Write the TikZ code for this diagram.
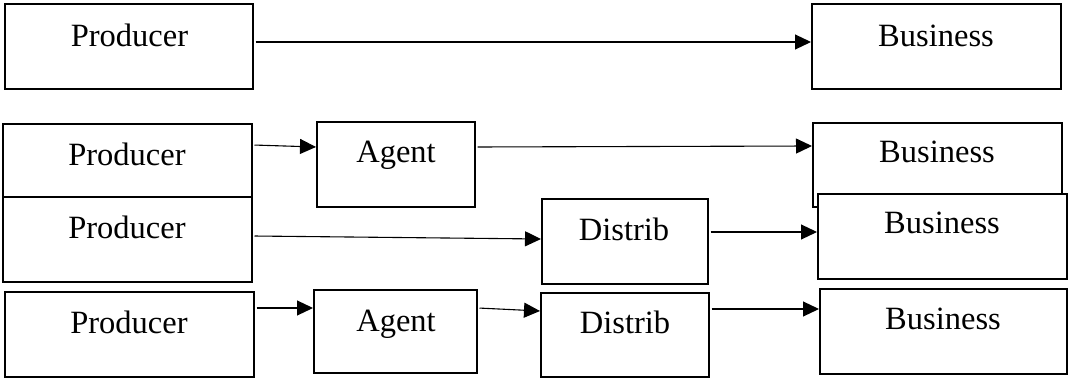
\documentclass[tikz,border=0pt]{standalone}
\usepackage{fontspec}
\setmainfont{Liberation Serif}
\usetikzlibrary{arrows.meta}
\begin{document}
\begin{tikzpicture}[x=1pt,y=-1pt,
  box/.style={draw=black,line width=2pt,rectangle,inner sep=0pt,fill=white},
  lbl/.style={anchor=base,inner sep=0pt,font=\fontsize{32.5}{38}\selectfont},
  arr/.style={line width=1.1pt,-{Triangle[length=16pt,width=15pt]},shorten <=1.5pt}]
\path[use as bounding box,fill=white] (0,0) rectangle (1068,379);
% row 1
\node[box,minimum width=248pt,minimum height=85pt] (p1) at (129,46.5) {};
\node[box,minimum width=249pt,minimum height=85pt] (b1) at (936.5,46.5) {};
% row 2
\node[box,minimum width=249pt,minimum height=73pt] (p2) at (127.5,160.5) {};
\node[box,minimum width=158pt,minimum height=85pt] (a2) at (396,164.5) {};
\node[box,minimum width=249pt,minimum height=84pt] (b2) at (937.5,165) {};
% row 3
\node[box,minimum width=249pt,minimum height=85pt] (p3) at (127.5,239.5) {};
\node[box,minimum width=166pt,minimum height=85pt] (d3) at (625,241.5) {};
\node[box,minimum width=249pt,minimum height=85pt] (b3) at (942.5,236.5) {};
% row 4
\node[box,minimum width=249pt,minimum height=85pt] (p4) at (129.5,334.5) {};
\node[box,minimum width=163pt,minimum height=83pt] (a4) at (395.5,331.5) {};
\node[box,minimum width=168pt,minimum height=84pt] (d4) at (625,335) {};
\node[box,minimum width=247pt,minimum height=85pt] (b4) at (943.5,331.5) {};
% labels
\node[lbl] (tp1) at (129.5,46.5) {Producer};
\node[lbl] (tb1) at (936,47) {Business};
\node[lbl] (tp2) at (127,166) {Producer};
\node[lbl] (ta2) at (396,163) {Agent};
\node[lbl] (tb2) at (937,163) {Business};
\node[lbl] (tp3) at (127,239) {Producer};
\node[lbl] (td3) at (624,241) {Distrib};
\node[lbl] (tb3) at (942,234) {Business};
\node[lbl] (tp4) at (129,333) {Producer};
\node[lbl] (ta4) at (396,331) {Agent};
\node[lbl] (td4) at (625,333) {Distrib};
\node[lbl] (tb4) at (943,329) {Business};
% arrows
\draw[arr] ([yshift=4.5pt]p1.east) -- ([yshift=4.5pt]b1.west);
\draw[arr] ([yshift=15.5pt]p2.east) -- ([yshift=17.5pt]a2.west);
\draw[arr] ([yshift=17.5pt]a2.east) -- ([yshift=19pt]b2.west);
\draw[arr] ([yshift=3.5pt]p3.east) -- ([yshift=2.5pt]d3.west);
\draw[arr] ([yshift=9.5pt]d3.east) -- ([yshift=4.5pt]b3.west);
\draw[arr] ([yshift=26.5pt]p4.east) -- ([yshift=23.5pt]a4.west);
\draw[arr] ([yshift=23.5pt]a4.east) -- ([yshift=24pt]d4.west);
\draw[arr] ([yshift=26pt]d4.east) -- ([yshift=22.5pt]b4.west);
\end{tikzpicture}
\end{document}
